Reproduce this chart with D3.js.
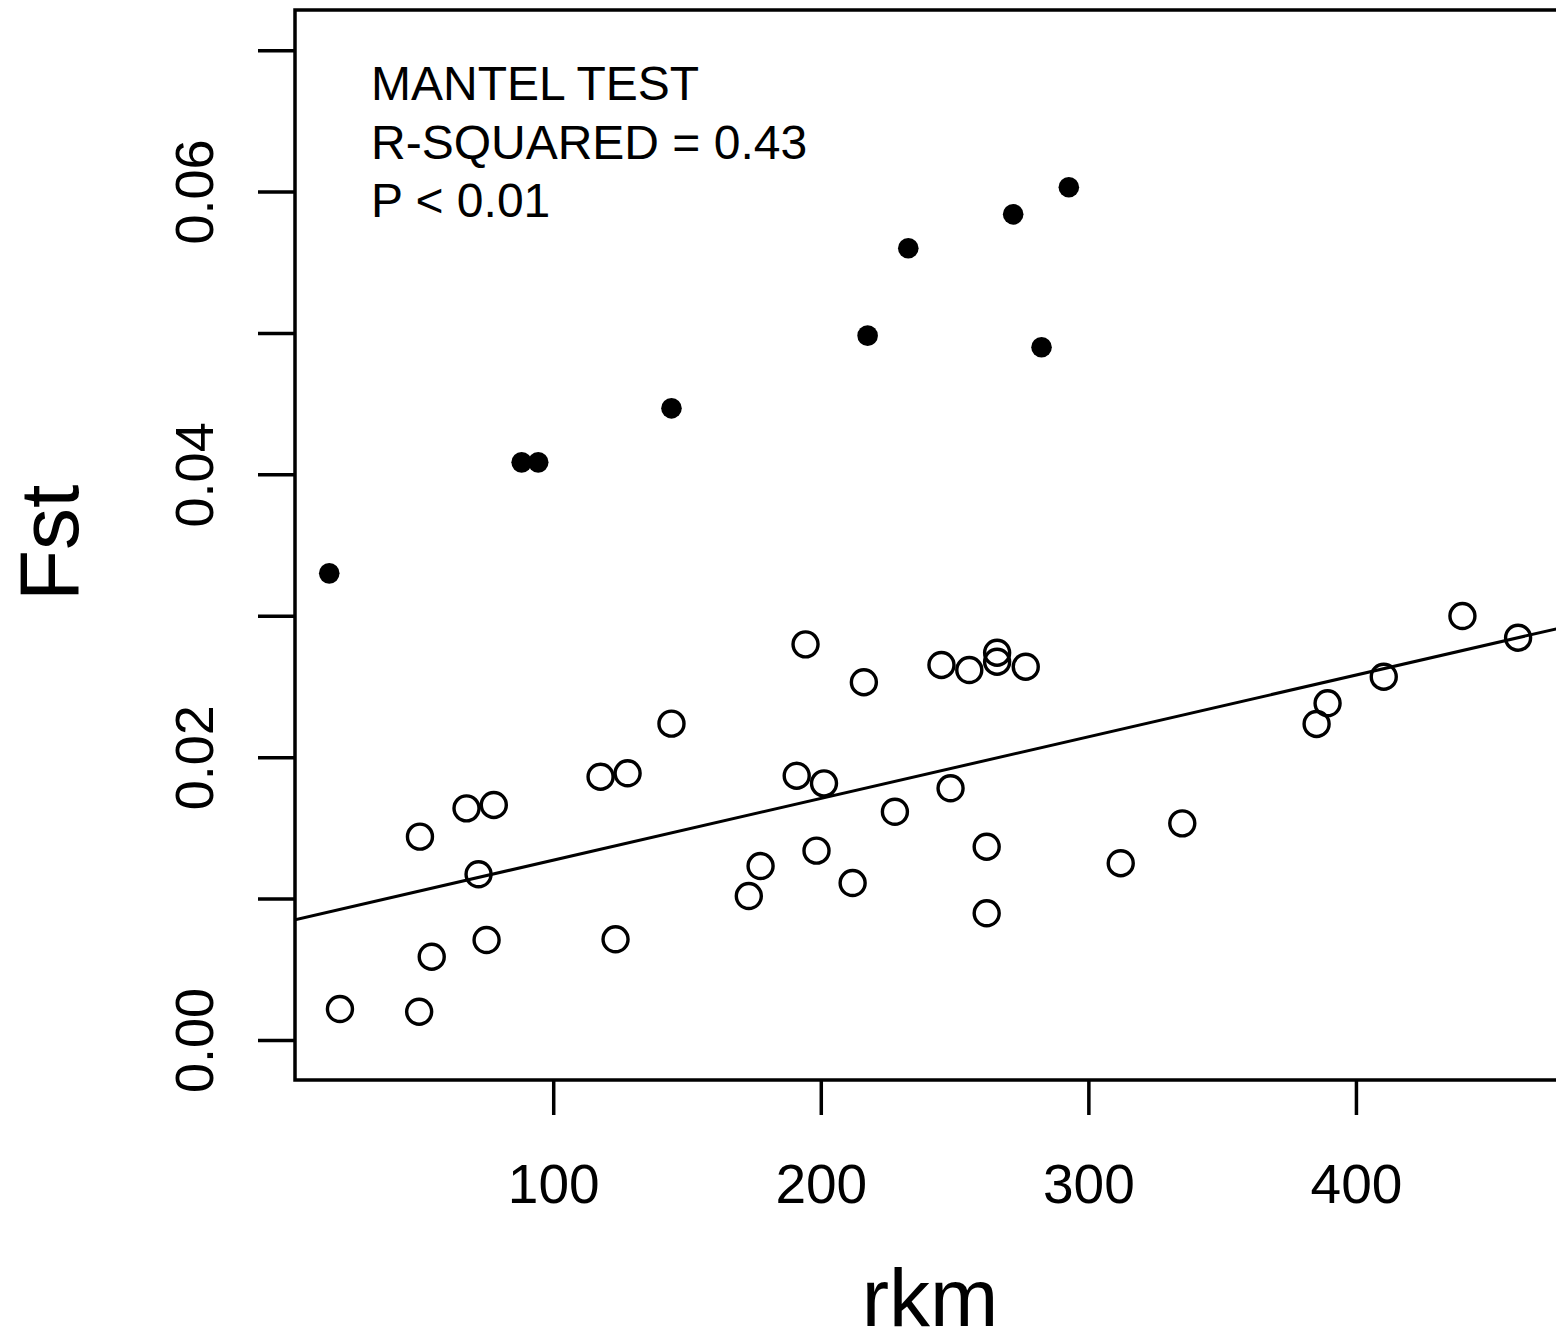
<!DOCTYPE html>
<html>
<head>
<meta charset="utf-8">
<script src="https://cdn.jsdelivr.net/npm/d3@7"></script>
<style>
    body { margin: 0; background: #fff; }
    text { font-family: "Liberation Sans", Arial, sans-serif; fill: #000; }
</style>
</head>
<body>
<div id="chart"></div>
<script>
// Pairwise points: river km vs Fst
const openRkm = [20.3, 49.9, 54.6, 50.2, 67.6, 77.8, 72.1, 75.1, 117.7, 127.8, 123.3, 144.2,
    173.1, 177.5, 191.0, 194.3, 201.2, 198.4, 211.9, 216.1, 227.7, 245.1, 248.5, 255.5,
    262.0, 262.0, 265.9, 265.9, 276.6, 312.1, 335.1, 385.3, 389.4, 410.4, 439.8, 460.6];
const openFst = [0.00219, 0.00200, 0.00589, 0.01438, 0.01638, 0.01662, 0.01172, 0.00707, 0.01862, 0.01886, 0.00712, 0.02237,
    0.01018, 0.01230, 0.01869, 0.02798, 0.01815, 0.01339, 0.01110, 0.02530, 0.01614, 0.02652, 0.01780, 0.02616,
    0.01367, 0.00896, 0.02739, 0.02675, 0.02640, 0.01250, 0.01532, 0.02235, 0.02381, 0.02569, 0.02998, 0.02845];

const filledRkm = [16.3, 88.2, 94.4, 144.2, 217.5, 232.7, 271.9, 282.5, 292.7];
const filledFst = [0.0330, 0.04085, 0.04085, 0.04467, 0.04981, 0.05599, 0.05839, 0.04899, 0.06030];

// Fitted line (abline)
const fitIntercept = 0.008351;
const fitSlope = 0.00004364;

const xTicks = [100, 200, 300, 400];
const yTicks = [0, 0.01, 0.02, 0.03, 0.04, 0.05, 0.06, 0.07];
const yLabelled = [0, 0.02, 0.04, 0.06];
const annotation = ['MANTEL TEST', 'R-SQUARED = 0.43', 'P < 0.01'];

const width = 1556, height = 1344;
const margin = { top: 10, right: -14, bottom: 264, left: 295 };
const chartWidth = width - margin.left - margin.right;
const chartHeight = height - margin.top - margin.bottom;

const svg = d3.select('#chart')
    .append('svg')
    .attr('width', width)
    .attr('height', height);

const g = svg.append('g')
    .attr('transform', `translate(${margin.left},${margin.top})`);

// Scales (domain matches R's extended plotting region)
const xScale = d3.scaleLinear()
    .domain([3.5, 480])
    .range([0, chartWidth]);

const yScale = d3.scaleLinear()
    .domain([-0.00283, 0.07284])
    .range([chartHeight, 0]);

g.append('defs').append('clipPath')
    .attr('id', 'plot-clip')
    .append('rect')
    .attr('width', chartWidth)
    .attr('height', chartHeight);

// Y axis
const yAxis = g.append('g')
    .attr('class', 'y-axis')
    .call(d3.axisLeft(yScale)
        .tickValues(yTicks)
        .tickSize(37)
        .tickSizeOuter(0)
        .tickFormat(d => yLabelled.some(v => Math.abs(v - d) < 1e-9) ? d3.format('.2f')(d) : ''));

yAxis.select('.domain').remove();
yAxis.selectAll('line').attr('stroke', '#000').attr('stroke-width', 3.5);
yAxis.selectAll('text')
    .attr('x', 0)
    .attr('dy', 0)
    .attr('transform', 'translate(-82,0) rotate(-90)')
    .attr('text-anchor', 'middle')
    .style('font-size', '54px');

// X axis
const xAxis = g.append('g')
    .attr('class', 'x-axis')
    .attr('transform', `translate(0,${chartHeight})`)
    .call(d3.axisBottom(xScale)
        .tickValues(xTicks)
        .tickSize(35)
        .tickSizeOuter(0)
        .tickFormat(d3.format('d')));

xAxis.select('.domain').remove();
xAxis.selectAll('line').attr('stroke', '#000').attr('stroke-width', 3.5);
xAxis.selectAll('text')
    .attr('y', 123)
    .attr('dy', 0)
    .style('font-size', '55px');

// Regression line
const plot = g.append('g').attr('clip-path', 'url(#plot-clip)');
const fitX = xScale.domain();
plot.append('path')
    .datum(fitX.map(x => ({ x: x, y: fitIntercept + fitSlope * x })))
    .attr('fill', 'none')
    .attr('stroke', '#000')
    .attr('stroke-width', 3)
    .attr('d', d3.line().x(d => xScale(d.x)).y(d => yScale(d.y)));

// Open points
plot.selectAll('.open-pt')
    .data(d3.zip(openRkm, openFst))
    .join('circle')
    .attr('class', 'open-pt')
    .attr('cx', d => xScale(d[0]))
    .attr('cy', d => yScale(d[1]))
    .attr('r', 12.5)
    .attr('fill', 'none')
    .attr('stroke', '#000')
    .attr('stroke-width', 3.4);

// Filled points
plot.selectAll('.filled-pt')
    .data(d3.zip(filledRkm, filledFst))
    .join('circle')
    .attr('class', 'filled-pt')
    .attr('cx', d => xScale(d[0]))
    .attr('cy', d => yScale(d[1]))
    .attr('r', 10.3)
    .attr('fill', '#000');

// Box
g.append('rect')
    .attr('width', chartWidth)
    .attr('height', chartHeight)
    .attr('fill', 'none')
    .attr('stroke', '#000')
    .attr('stroke-width', 3.5);

// Annotation
g.append('g')
    .selectAll('text')
    .data(annotation)
    .join('text')
    .attr('x', 76)
    .attr('y', (d, i) => 90 + i * 58.5)
    .style('font-size', '48px')
    .text(d => d);

// Axis titles
svg.append('text')
    .attr('transform', 'translate(78,543) rotate(-90)')
    .attr('text-anchor', 'middle')
    .style('font-size', '84px')
    .text('Fst');

svg.append('text')
    .attr('x', 930)
    .attr('y', 1326)
    .attr('text-anchor', 'middle')
    .style('font-size', '82px')
    .text('rkm');
</script>
</body>
</html>
